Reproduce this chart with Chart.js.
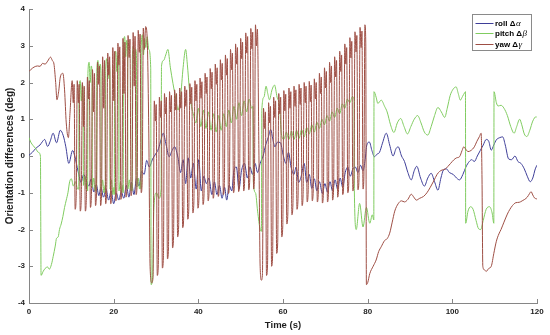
<!DOCTYPE html>
<html><head><meta charset="utf-8">
<script src="https://cdn.jsdelivr.net/npm/chart.js@4.4.1/dist/chart.umd.min.js"></script>
<style>html,body{margin:0;padding:0;background:#fff;overflow:hidden}#wrap{position:relative;width:550px;height:335px}</style>
</head><body><div id="wrap"><canvas id="c" width="550" height="335"></canvas></div>
<script>
const seriesNames = ['roll \u0394\u03b1', 'pitch \u0394\u03b2', 'yaw \u0394\u03b3'];
const timeTicks = [0, 20, 40, 60, 80, 100, 120];
const valueTicks = [-4, -3, -2, -1, 0, 1, 2, 3, 4];
const xTitle = 'Time (s)';
const yTitle = 'Orientation differences (deg)';

const rollT = [
0,0.8,1.7,2.6,3.1,3.7,4.4,5.0,5.7,6.5,
7.4,8.1,8.7,9.4,10.3,10.8,11.6,12.3,12.9,13.5,
14.1,14.7,15.3,15.9,16.5,17.0,17.6,18.2,18.8,19.4,
20.0,20.6,21.2,21.8,22.4,23.0,23.6,24.2,24.8,25.4,
26.0,26.6,27.2,27.8,28.4,29.2,29.9,30.6,31.2,31.7,
32.4,33.1,33.8,34.4,35.2,35.8,36.4,37.0,37.6,38.2,
38.8,39.5,40.1,40.7,41.3,41.9,42.5,43.2,43.8,44.4,
45.0,45.6,46.2,46.7,47.3,47.9,48.4,49.0,49.6,50.2,
50.9,51.6,52.2,52.8,53.4,54.0,54.6,55.3,55.9,56.5,
57.1,57.6,58.1,58.7,59.4,60.0,60.7,61.3,61.9,62.6,
63.1,63.7,64.3,65.0,65.6,66.2,66.8,67.4,68.0,68.6,
69.3,69.9,70.5,71.1,71.7,72.3,72.9,73.5,74.1,74.7,
75.3,75.9,76.5,77.1,77.7,78.3,78.9,79.4,79.8,80.4,
81.0,81.6,82.2,82.8,83.5,84.4,85.2,86.0,86.7,87.2,
88.0,88.7,89.5,90.3,91.0,91.6,92.5,93.4,94.2,95.0,
95.8,96.6,97.3,97.9,98.6,99.3,100.2,101.0,101.7,102.5,
103.2,104.0,104.6,105.2,105.9,106.6,107.3,108.0,108.6,109.2,
109.8,110.4,111.2,111.9,112.5,113.3,114.0,114.8,115.5,116.2,
117.0,117.7,118.4,119.0,119.6,120.0];
const rollV = [
0.02,0.1,0.22,0.3,0.38,0.45,0.26,0.4,0.62,0.36,
0.7,0.55,0.25,-0.2,0.15,0.0,-0.42,-0.72,-0.5,-0.66,
-0.82,-0.62,-0.98,-0.78,-1.08,-0.85,-1.12,-0.9,-1.2,-0.95,
-1.3,-1.0,-1.2,-0.98,-1.15,-0.8,-1.12,-0.72,-1.05,-0.6,
-0.82,-0.42,-0.5,-0.12,-0.3,-0.08,0.05,0.2,0.45,0.62,
0.3,-0.02,0.15,0.25,-0.05,-0.45,-0.1,-0.75,-0.05,-0.6,
-0.2,-0.9,-0.1,-0.95,-0.55,-0.75,-0.6,-1.05,-0.7,-1.05,
-0.8,-1.15,-0.85,-1.2,-0.8,-0.95,-0.4,-0.3,-0.9,-0.4,
-0.2,-0.6,-0.3,-0.5,-0.2,-0.45,-0.2,0.0,0.3,0.5,
0.72,0.45,0.25,0.38,0.36,0.05,-0.2,0.1,-0.3,-0.5,
-0.3,-0.72,-0.55,-0.2,-0.72,-0.5,-0.88,-0.62,-0.95,-0.7,
-1.02,-0.75,-0.98,-0.7,-0.95,-0.65,-0.9,-0.6,-0.85,-0.45,
-0.3,-0.55,-0.35,-0.3,-0.45,-0.25,-0.4,-0.1,0.3,0.38,
0.15,-0.02,0.05,0.1,0.35,0.62,0.3,0.0,0.2,0.25,
0.0,-0.15,-0.45,-0.65,-0.4,-0.28,-0.6,-0.82,-0.6,-0.47,
-0.7,-0.93,-0.6,-0.38,-0.35,-0.45,-0.5,-0.6,-0.65,-0.5,
-0.3,-0.15,-0.1,-0.15,0.0,0.15,0.3,0.45,0.4,0.16,
0.3,0.44,0.5,0.52,0.3,-0.08,-0.1,0.0,-0.15,-0.2,
-0.35,-0.55,-0.7,-0.6,-0.35,-0.25];

const pitchT = [
0,0.4,1.0,1.6,2.2,2.7,2.85,3.3,3.8,4.4,
4.8,5.3,5.7,6.2,6.5,6.9,7.2,7.6,8.0,8.4,
8.8,9.2,9.6,10.0,10.5,11.0,11.5,
11.75,11.82,12.1,12.35,12.6,12.8,12.85,13.2,13.5,13.8,
13.85,13.92,14.2,14.45,14.7,14.9,14.95,15.3,15.6,15.9,
15.95,16.02,16.3,16.55,16.8,17.0,17.05,17.4,17.7,18.0,
18.05,18.12,18.4,18.65,18.9,19.1,19.15,19.5,19.8,20.1,
20.15,20.22,20.5,20.75,21.0,21.2,21.25,21.6,21.9,22.2,
22.25,22.32,22.6,22.85,23.1,23.3,23.35,23.7,24.0,24.3,
24.35,24.42,24.7,24.95,25.2,25.4,25.45,25.8,26.1,26.4,
26.45,26.52,26.8,27.05,27.3,27.6,27.9,28.3,28.75,28.85,
29.2,29.5,30.1,30.7,31.2,31.3,31.8,32.3,32.8,33.4,
34.0,34.6,35.2,35.8,36.4,37.0,37.4,37.9,38.4,38.9,
39.4,40.0,40.6,41.2,41.8,42.4,43.0,43.6,44.2,44.8,
45.4,46.0,46.6,47.2,47.8,48.4,49.0,49.6,50.2,50.8,
51.4,52.0,52.6,52.9,53.0,53.5,54.0,54.6,54.9,55.0,
55.5,56.0,56.4,56.8,57.4,58.0,58.6,59.2,59.6,60.2,
60.8,61.4,62.0,62.6,63.2,63.8,64.4,65.0,65.6,66.2,
66.8,67.4,68.0,68.6,69.2,69.8,70.4,71.0,71.6,72.2,
72.8,73.4,74.0,74.6,75.2,75.8,76.4,76.8,76.85,77.3,
78.1,78.9,79.7,80.5,81.1,81.45,81.5,82.0,82.4,83.2,
84.0,84.6,85.4,86.2,87.0,87.8,88.6,89.4,90.2,91.0,
91.8,92.6,93.4,94.2,95.0,95.8,96.6,97.4,98.2,98.8,
99.5,100.2,100.9,101.4,101.9,102.4,102.9,103.1,103.15,103.7,
104.3,104.9,105.6,106.2,106.7,107.3,108.0,108.8,109.4,109.8,
109.85,110.4,110.8,111.5,112.2,113.0,113.8,114.6,115.2,115.9,
116.4,117.0,117.6,118.3,119.0,119.8,120.0];
const pitchV = [
0.5,0.38,0.28,0.2,0.1,0.0,-3.25,-3.15,-3.06,-3.02,
-3.08,-2.95,-2.74,-2.45,-2.24,-2.2,-2.0,-1.85,-1.65,-1.4,
-1.2,-1.0,-0.7,-0.62,-0.82,-0.7,-0.9,
-0.9,1.75,2.05,1.5,1.95,1.7,-0.8,-0.55,-0.9,-0.75,
-0.95,2.25,2.55,2.0,2.45,2.2,-0.85,-0.6,-0.95,-0.8,
-1.0,2.3,2.6,2.05,2.5,2.25,-0.9,-0.65,-1.0,-0.8,
-1.0,2.35,2.65,2.1,2.55,2.3,-0.9,-0.65,-1.05,-0.85,
-1.05,2.55,2.85,2.3,2.75,2.5,-0.95,-0.7,-1.0,-0.8,
-1.0,2.95,3.25,2.7,3.15,2.9,-0.9,-0.65,-0.95,-0.75,
-0.95,2.7,3.0,2.45,2.9,2.65,-0.85,-0.6,-0.9,-0.7,
-0.9,3.0,3.3,2.75,3.2,2.95,3.25,2.9,2.4,-3.5,
-3.3,-1.4,-1.0,-1.15,-0.9,2.45,2.6,2.75,2.9,2.4,
1.98,1.6,1.25,1.6,2.4,2.9,2.5,1.8,1.35,1.1,
0.9,1.3,0.8,1.25,0.75,1.2,0.7,1.15,0.65,1.1,
0.7,1.15,0.8,1.25,0.9,1.35,1.0,1.45,1.1,1.5,
1.2,1.55,1.3,1.35,-0.7,-1.0,-1.5,-2.0,-2.05,1.25,
1.6,1.9,1.7,1.53,1.8,1.93,1.6,1.34,0.62,0.45,
0.65,0.45,0.68,0.45,0.7,0.48,0.72,0.52,0.78,0.6,
0.85,0.65,0.92,0.75,1.0,0.85,1.1,0.95,1.2,1.05,
1.3,1.15,1.42,1.3,1.55,1.45,1.62,1.5,-0.93,-2.0,
-1.29,-1.93,-1.4,-1.83,-1.6,-1.74,1.75,1.6,1.43,1.52,
1.35,1.2,0.85,0.64,0.9,1.02,0.8,0.6,0.8,1.0,
1.1,0.9,0.65,0.57,0.8,1.1,1.32,1.2,1.05,1.3,
1.65,1.82,1.88,1.7,1.52,1.62,1.72,1.75,-1.83,-1.5,
-1.38,-1.45,-1.75,-1.98,-2.0,-1.75,-1.45,-1.38,-1.55,-1.83,
1.75,1.45,1.36,1.38,1.3,1.1,0.8,0.62,0.8,1.0,
0.85,0.6,0.53,0.7,0.95,1.07,1.05];

const yawT = [
0,0.5,1.2,2.0,2.6,3.2,3.8,4.4,5.1,5.5,
5.9,6.3,6.6,7.0,7.4,8.0,8.4,8.8,9.3,9.7,
10.2,10.45,10.65,10.9,11.15, 11.4,11.65,11.85,12.1,12.35,
12.6,12.85,13.05,13.3,13.55, 13.8,14.05,14.25,14.5,14.75,
15.0,15.25,15.45,15.7,15.95, 16.2,16.45,16.65,16.9,17.15,
17.4,17.65,17.85,18.1,18.35, 18.6,18.85,19.05,19.3,19.55,
19.8,20.05,20.25,20.5,20.75, 21.0,21.25,21.45,21.7,21.95,
22.2,22.45,22.65,22.9,23.15, 23.4,23.65,23.85,24.1,24.35,
24.6,24.85,25.05,25.3,25.55, 25.8,26.05,26.25,26.5,26.75,
27.0,27.25,27.55,27.9,28.3, 28.6,29.0,29.3,
29.6,29.85,30.05,30.3,30.55, 30.8,31.05,31.25,31.5,31.75,
32.0,32.25,32.45,32.7,32.95, 33.2,33.45,33.65,33.9,34.15,
34.4,34.65,34.85,35.1,35.35, 35.6,35.85,36.05,36.3,36.55,
36.8,37.05,37.25,37.5,37.75, 38.0,38.25,38.45,38.7,38.95,
39.2,39.45,39.65,39.9,40.15, 40.4,40.65,40.85,41.1,41.35,
41.6,41.85,42.05,42.3,42.55, 42.8,43.05,43.25,43.5,43.75,
44.0,44.25,44.45,44.7,44.95, 45.2,45.45,45.65,45.9,46.15,
46.4,46.65,46.85,47.1,47.35, 47.6,47.85,48.05,48.3,48.55,
48.8,49.05,49.25,49.5,49.75, 50.0,50.25,50.45,50.7,50.95,
51.2,51.45,51.65,51.9,52.15, 52.4,52.65,52.85,53.05,53.25,
53.5,53.75,53.95,54.3,54.6,54.9,55.15,
55.4,55.65,55.85,56.1,56.35, 56.6,56.85,57.05,57.3,57.55,
57.8,58.05,58.25,58.5,58.75, 59.0,59.25,59.45,59.7,59.95,
60.2,60.45,60.65,60.9,61.15, 61.4,61.65,61.85,62.1,62.35,
62.6,62.85,63.05,63.3,63.55, 63.8,64.05,64.25,64.5,64.75,
65.0,65.25,65.45,65.7,65.95, 66.2,66.45,66.65,66.9,67.15,
67.4,67.65,67.85,68.1,68.35, 68.6,68.85,69.05,69.3,69.55,
69.8,70.05,70.25,70.5,70.75, 71.0,71.25,71.45,71.7,71.95,
72.2,72.45,72.65,72.9,73.15, 73.4,73.65,73.85,74.1,74.35,
74.6,74.85,75.05,75.3,75.55, 75.8,76.05,76.25,76.5,76.75,
77.0,77.25,77.45,77.7,77.95, 78.2,78.45,78.65,78.9,79.1,
79.35,79.55,79.7,80.0,
80.5,81.3,82.0,82.6,83.2,84.0,84.6,85.2,85.8,86.4,
87.2,88.0,88.7,89.5,90.3,90.9,91.5,92.3,93.2,94.0,
94.8,95.6,96.4,97.0,97.6,98.3,98.9,99.6,100.3,101.0,
101.7,102.3,102.7,103.2,103.7,104.4,105.2,105.8,106.4,106.8,
107.0,107.2,107.6,108.0,108.6,109.2,109.8,110.4,111.0,111.5,
112.2,113.0,113.6,114.2,115.0,115.8,116.5,117.1,117.7,118.2,
118.6,119.0,119.4,120.0];
const yawV = [
2.3,2.36,2.42,2.45,2.44,2.52,2.5,2.58,2.69,2.6,
2.5,2.0,1.53,1.75,2.15,2.25,1.8,0.9,0.5,1.2,
2.05,1.45,1.95,-1.45,-1.1, 2.05,1.45,1.95,-1.5,-1.15,
2.0,0.8,1.9,-1.5,-1.15, 2.15,1.55,2.05,-1.4,-1.05,
2.35,1.2,2.25,-1.35,-1.0, 2.55,1.95,2.45,-1.35,-1.0,
2.7,1.3,2.6,-1.3,-0.95, 2.8,2.2,2.7,-1.3,-0.95,
2.95,1.5,2.85,-1.22,-0.87, 3.07,2.47,2.97,-1.18,-0.83,
3.2,1.7,3.1,-1.12,-0.77, 3.28,2.68,3.18,-1.08,-0.73,
3.36,1.9,3.26,-1.05,-0.7, 3.42,2.82,3.32,-1.0,-0.65,
3.48,2.9,3.52,3.25,0.6, -3.0,-3.45,-3.3,
1.5,0.95,1.4,-3.25,-2.95, 1.6,1.05,1.5,-3.05,-2.75,
1.7,1.15,1.6,-2.8,-2.5, 1.75,1.2,1.65,-2.5,-2.2,
1.8,1.25,1.7,-2.2,-1.9, 1.85,1.3,1.75,-1.95,-1.65,
1.9,1.35,1.8,-1.72,-1.42, 1.97,1.42,1.87,-1.55,-1.25,
2.05,1.5,1.95,-1.42,-1.12, 2.12,1.57,2.02,-1.32,-1.02,
2.25,1.7,2.15,-1.22,-0.92, 2.38,1.83,2.28,-1.15,-0.85,
2.5,1.95,2.4,-1.1,-0.8, 2.62,2.07,2.52,-1.05,-0.75,
2.75,2.2,2.65,-1.02,-0.72, 2.9,2.35,2.8,-1.0,-0.7,
3.05,2.5,2.95,-0.97,-0.67, 3.2,2.65,3.1,-0.95,-0.65,
3.35,2.8,3.25,-0.92,-0.62, 3.47,2.92,3.37,-0.9,-0.6,
3.57,3.0,3.45,0.2,-3.0,-3.38,-3.2,
1.3,0.75,1.2,-3.25,-2.95, 1.45,0.9,1.35,-3.0,-2.7,
1.6,1.05,1.5,-2.65,-2.35, 1.7,1.15,1.6,-2.2,-1.9,
1.78,1.23,1.68,-1.85,-1.55, 1.85,1.3,1.75,-1.6,-1.3,
1.9,1.35,1.8,-1.45,-1.15, 1.95,1.4,1.85,-1.35,-1.05,
2.0,1.45,1.9,-1.25,-0.95, 2.03,1.48,1.93,-1.22,-0.92,
2.1,1.55,2.0,-1.25,-0.95, 2.25,1.7,2.15,-1.28,-0.98,
2.4,1.85,2.3,-1.25,-0.95, 2.55,2.0,2.45,-1.2,-0.9,
2.7,2.15,2.6,-1.12,-0.82, 2.85,2.3,2.75,-1.05,-0.75,
3.05,2.5,2.95,-1.0,-0.7, 3.22,2.67,3.12,-0.95,-0.65,
3.38,2.83,3.28,-0.92,-0.62, 3.5,2.95,3.4,-0.9,-0.6,
3.57,3.1,-3.5,-3.45,
-3.2,-3.0,-2.83,-2.6,-2.47,-2.3,-2.25,-2.1,-1.8,-1.5,
-1.3,-1.22,-1.25,-1.18,-1.04,-1.12,-1.2,-1.15,-1.1,-1.0,
-0.85,-0.68,-0.5,-0.42,-0.38,-0.36,-0.29,-0.2,-0.11,-0.05,
-0.02,0.15,0.25,0.18,0.12,0.15,0.25,0.4,0.53,0.62,
-0.5,-3.0,-3.1,-3.14,-3.06,-3.0,-2.65,-2.32,-2.12,-2.0,
-1.8,-1.58,-1.45,-1.35,-1.27,-1.26,-1.22,-1.18,-1.12,-1.03,
-0.97,-1.06,-1.14,-1.17];

const seriesColors = ['rgb(62,62,152)', 'rgb(128,204,96)', 'rgb(158,78,68)'];
const axisColor = '#868686';
const textColor = '#1e1e1e';
const FONT = '"Liberation Sans", Arial, Helvetica, sans-serif';

function pts(T, V) { return T.map((t, i) => ({ x: t, y: V[i] })); }

const inwardTicks = {
  id: 'inwardTicks',
  afterDraw(chart) {
    const { ctx, chartArea: a, scales: { x, y } } = chart;
    ctx.save();
    ctx.strokeStyle = axisColor; ctx.lineWidth = 1;
    ctx.beginPath();
    x.ticks.forEach(t => { const p = Math.round(x.getPixelForValue(t.value)) + 0.5; ctx.moveTo(p, a.bottom); ctx.lineTo(p, a.bottom - 4); });
    y.ticks.forEach(t => { const p = Math.round(y.getPixelForValue(t.value)) + 0.5; ctx.moveTo(a.left, p); ctx.lineTo(a.left + 4, p); });
    ctx.stroke();
    ctx.restore();
  }
};

const legendBox = {
  id: 'legendBox',
  afterDraw(chart) {
    const { ctx, chartArea: a } = chart;
    const bx = Math.round(a.right - 65) + 0.5, by = Math.round(a.top + 5) + 0.5;
    const w = 59, h = 36;
    ctx.save();
    ctx.fillStyle = '#fff';
    ctx.fillRect(bx, by, w, h);
    ctx.strokeStyle = '#8a8a8a'; ctx.lineWidth = 1;
    ctx.strokeRect(bx, by, w, h);
    chart.data.datasets.forEach((ds, i) => {
      const ry = Math.round(by + 8 + i * 10.7) + 0.5;
      ctx.strokeStyle = ds.borderColor; ctx.lineWidth = 1;
      ctx.beginPath(); ctx.moveTo(bx + 3, ry); ctx.lineTo(bx + 21, ry); ctx.stroke();
      const name = ds.label;
      const head = name.slice(0, -1), greek = name.slice(-1);
      ctx.fillStyle = '#000';
      ctx.textBaseline = 'middle';
      ctx.font = 'bold 8px ' + FONT;
      ctx.fillText(head, bx + 22.5, ry);
      const wHead = ctx.measureText(head).width;
      ctx.font = 'italic 9px "Liberation Serif", "DejaVu Serif", serif';
      ctx.fillText(greek, bx + 22.5 + wHead + 0.5, ry);
    });
    ctx.restore();
  }
};

new Chart(document.getElementById('c'), {
  type: 'line',
  data: {
    datasets: [
      { label: seriesNames[0], data: pts(rollT, rollV), borderColor: seriesColors[0], order: 2 },
      { label: seriesNames[1], data: pts(pitchT, pitchV), borderColor: seriesColors[1], order: 1 },
      { label: seriesNames[2], data: pts(yawT, yawV), borderColor: seriesColors[2], order: 0 }
    ]
  },
  options: {
    responsive: false,
    animation: false,
    devicePixelRatio: 1,
    elements: { point: { radius: 0 }, line: { borderWidth: 1, cubicInterpolationMode: 'monotone', fill: false } },
    layout: { padding: { top: 9, right: 13, left: 0, bottom: 0 } },
    plugins: { legend: { display: false }, tooltip: { enabled: false } },
    scales: {
      x: {
        type: 'linear', min: 0, max: 120,
        afterBuildTicks: s => { s.ticks = timeTicks.map(v => ({ value: v })); },
        afterFit: s => { s.height = 32; },
        grid: { display: false, drawTicks: false, tickLength: 0 },
        border: { display: true, color: axisColor, width: 1 },
        ticks: { padding: 4, color: textColor, autoSkip: false, maxRotation: 0, font: { family: FONT, size: 8, weight: 'bold' } },
        title: { display: true, text: xTitle, color: textColor, padding: { top: 0, bottom: 4 }, font: { family: FONT, size: 9.5, weight: 'bold' } }
      },
      y: {
        type: 'linear', min: -4, max: 4,
        afterBuildTicks: s => { s.ticks = valueTicks.map(v => ({ value: v })); },
        afterFit: s => { s.width = 29; },
        grid: { display: false, drawTicks: false, tickLength: 0 },
        border: { display: true, color: axisColor, width: 1 },
        ticks: { padding: 4, color: textColor, font: { family: FONT, size: 8, weight: 'bold' } },
        title: { display: true, text: yTitle, color: textColor, padding: { top: 4, bottom: 0 }, font: { family: FONT, size: 10, weight: 'bold' } }
      }
    }
  },
  plugins: [inwardTicks, legendBox]
});
</script>
</body></html>
